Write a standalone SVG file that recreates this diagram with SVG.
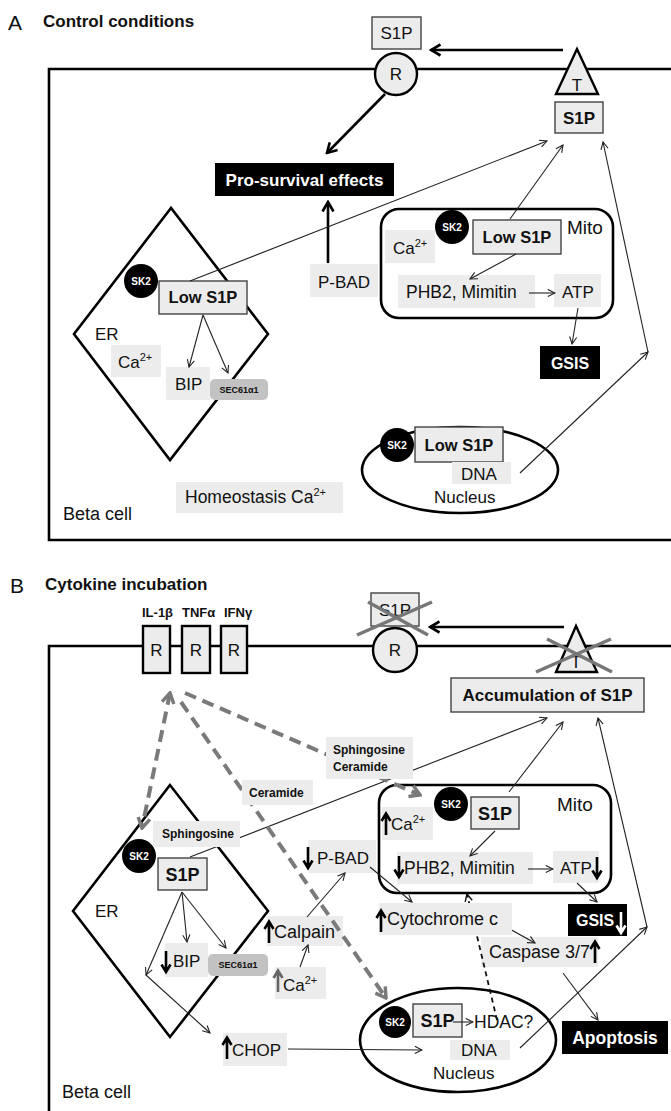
<svg xmlns="http://www.w3.org/2000/svg" width="671" height="1111" viewBox="0 0 671 1111">
<style>
text{font-family:"Liberation Sans",Arial,sans-serif;fill:#111}
.b{font-weight:bold}
.m{text-anchor:middle}
.w{fill:#fff}
.s17{font-size:17px}
.s18{font-size:18px}
.s12{font-size:12px}
.sk{font-size:10px;font-weight:bold;fill:#fff;text-anchor:middle}
.bg{fill:#ececec}
.bx{fill:#ececec;stroke:#444;stroke-width:1.4}
.blk{fill:#000}
.mem{fill:none;stroke:#000;stroke-width:2.6}
.shp{fill:#ececec;stroke:#000;stroke-width:2.4}
.ln{fill:none;stroke:#222;stroke-width:1.1;marker-end:url(#a)}
.bo{fill:none;stroke:#000;stroke-width:2.6;marker-end:url(#ab)}
.dg{fill:none;stroke:#7a7a7a;stroke-width:4;stroke-dasharray:12 7;marker-end:url(#ag)}
.dk{fill:none;stroke:#111;stroke-width:1.8;stroke-dasharray:5 4;marker-end:url(#ak)}
.x{stroke:#777;stroke-width:3.5}
.sec{fill:#c2c2c2}
.ua{fill:none;stroke-width:2.6}
</style>
<defs>
<marker id="a" viewBox="0 0 10 10" refX="9" refY="5" markerWidth="9" markerHeight="9" orient="auto" markerUnits="userSpaceOnUse"><path d="M1,1 L9,5 L1,9" fill="none" stroke="#222" stroke-width="1.2"/></marker>
<marker id="ab" viewBox="0 0 13 14" refX="11" refY="7" markerWidth="13" markerHeight="14" orient="auto" markerUnits="userSpaceOnUse"><path d="M1.5,1.5 L11,7 L1.5,12.5" fill="none" stroke="#000" stroke-width="2.6"/></marker>
<marker id="ag" viewBox="0 0 14 16" refX="12" refY="8" markerWidth="14" markerHeight="16" orient="auto-start-reverse" markerUnits="userSpaceOnUse"><path d="M2,2 L12,8 L2,14" fill="none" stroke="#7a7a7a" stroke-width="3.5"/></marker>
<marker id="ak" viewBox="0 0 10 10" refX="9" refY="5" markerWidth="9" markerHeight="9" orient="auto" markerUnits="userSpaceOnUse"><path d="M1,1 L9,5 L1,9" fill="none" stroke="#111" stroke-width="1.6"/></marker>
<path id="up" d="M0,0 V-21 M-4.5,-14 L0,-21.5 L4.5,-14"/>
<path id="dn" d="M0,-21 V0 M-4.5,-7.5 L0,0 L4.5,-7.5"/>
</defs>
<rect width="671" height="1111" fill="#fff"/>

<!-- ========== PANEL A ========== -->
<g id="titleA">
<text x="8" y="30" style="font-size:21px">A</text>
<text x="43" y="27" class="b s17">Control conditions</text>
</g>
<g id="cellA">
<path class="mem" d="M671,69 H49 V540 H671"/>
<text x="63" y="520" class="s18">Beta cell</text>
</g>
<g id="recA">
<rect class="bx" x="372" y="17" width="49" height="32"/>
<text x="396.5" y="39" class="s17 m">S1P</text>
<circle class="shp" cx="396" cy="74" r="21"/>
<text x="396" y="80" class="s17 m">R</text>
</g>
<g id="transA">
<polygon class="shp" points="577,49 556,94 598,94"/>
<text x="577" y="91" class="s17 m">T</text>
<rect class="bx" x="555" y="102" width="48" height="31"/>
<text x="579" y="124" class="b s17 m">S1P</text>
</g>
<g id="prosurvival">
<rect class="blk" x="215" y="163" width="179" height="33"/>
<text x="304.5" y="186" class="b s17 m w">Pro-survival effects</text>
</g>
<g id="pbadA">
<rect class="bg" x="310" y="264" width="68" height="33"/>
<text x="318" y="288" class="s17">P-BAD</text>
</g>
<g id="erA">
<polygon class="mem" points="171,208 74,334 170,460 268,334"/>
<text x="95" y="340" class="s17">ER</text>
<circle cx="141" cy="281" r="17" fill="#000"/>
<text x="141" y="285" class="sk">SK2</text>
<rect class="bx" x="159" y="281" width="88" height="33"/>
<text x="203" y="303" class="b m" style="font-size:16.5px">Low S1P</text>
<rect class="bg" x="111" y="345" width="50" height="32"/>
<text x="118" y="368" class="s17">Ca<tspan font-size="11" dy="-7">2+</tspan></text>
<rect class="bg" x="166" y="367" width="44" height="33"/>
<text x="175" y="390" class="s17">BIP</text>
<rect class="sec" x="210" y="379" width="58" height="21" rx="5"/>
<text x="239" y="393" class="b m" style="font-size:9px">SEC61α1</text>
</g>
<g id="mitoA">
<rect class="mem" x="381" y="209" width="232" height="109" rx="18"/>
<text x="567" y="234" style="font-size:19px">Mito</text>
<circle cx="452" cy="227" r="17" fill="#000"/>
<text x="452" y="231" class="sk">SK2</text>
<rect class="bx" x="473" y="220" width="88" height="34"/>
<text x="517" y="243" class="b m" style="font-size:16.5px">Low S1P</text>
<rect class="bg" x="385" y="230" width="50" height="33"/>
<text x="393" y="254" class="s17">Ca<tspan font-size="11" dy="-7">2+</tspan></text>
<rect class="bg" x="398" y="275" width="137" height="33"/>
<text x="406" y="298" style="font-size:17.5px">PHB2, Mimitin</text>
<rect class="bg" x="554" y="274" width="47" height="33"/>
<text x="562" y="298" class="s17">ATP</text>
</g>
<g id="gsisA">
<rect class="blk" x="540" y="346" width="60" height="33"/>
<text x="570" y="369" class="b m w" style="font-size:16px">GSIS</text>
</g>
<g id="nucleusA">
<ellipse class="mem" cx="460" cy="470" rx="98" ry="43"/>
<circle cx="397" cy="445" r="17" fill="#000"/>
<text x="397" y="449" class="sk">SK2</text>
<rect class="bx" x="415" y="427" width="88" height="35"/>
<text x="459" y="451" class="b m" style="font-size:16.5px">Low S1P</text>
<rect class="bg" x="452" y="462" width="59" height="22"/>
<text x="461" y="480" class="s17">DNA</text>
<text x="434" y="503" class="s17">Nucleus</text>
</g>
<g id="homeostasis">
<rect class="bg" x="176" y="482" width="167" height="31"/>
<text x="185" y="503" style="font-size:17.5px">Homeostasis Ca<tspan font-size="11" dy="-7">2+</tspan></text>
</g>

<!-- ========== PANEL B ========== -->
<g id="titleB">
<text x="10" y="593" style="font-size:21px">B</text>
<text x="45" y="590" class="b s17">Cytokine incubation</text>
</g>
<g id="cellB">
<path class="mem" d="M671,646 H49 V1111"/>
<text x="62" y="1098" class="s18">Beta cell</text>
</g>
<g id="cytokineR">
<rect class="shp" x="143" y="626" width="27" height="47"/>
<rect class="shp" x="182" y="626" width="28" height="47"/>
<rect class="shp" x="221" y="626" width="26" height="47"/>
<text x="156.5" y="656" class="s17 m">R</text>
<text x="196" y="656" class="s17 m">R</text>
<text x="234" y="656" class="s17 m">R</text>
<text x="142" y="617" class="b" style="font-size:13px">IL-1β</text>
<text x="182" y="617" class="b" style="font-size:13px">TNFα</text>
<text x="224" y="617" class="b" style="font-size:13px">IFNγ</text>
</g>
<g id="recB">
<rect class="bx" x="371" y="593" width="48" height="33"/>
<text x="395" y="616" class="s17 m">S1P</text>
<line class="x" x1="357" y1="635" x2="432" y2="602"/>
<line class="x" x1="368" y1="602" x2="428" y2="635"/>
<circle class="shp" cx="395" cy="650" r="22"/>
<text x="395" y="656" class="s17 m">R</text>
</g>
<g id="transB">
<polygon class="shp" points="576,626 556,672 597,672"/>
<text x="576" y="668" class="s17 m">T</text>
<line class="x" x1="536" y1="672" x2="611" y2="639"/>
<line class="x" x1="547" y1="639" x2="612" y2="672"/>
</g>
<g id="accumulation">
<rect class="bx" x="451" y="678" width="193" height="34"/>
<text x="547.5" y="701" class="b s17 m">Accumulation of S1P</text>
</g>
<g id="erB">
<polygon class="mem" points="170,785 73,911 170,1037 268,911"/>
<text x="95" y="917" class="s17">ER</text>
<circle cx="139" cy="856" r="17" fill="#000"/>
<text x="139" y="860" class="sk">SK2</text>
<rect class="bx" x="158" y="858" width="49" height="32"/>
<text x="182.5" y="881" class="b m s18">S1P</text>
<rect class="bg" x="165" y="943" width="43" height="34"/>
<use href="#dn" x="166" y="972" class="ua" stroke="#000"/>
<text x="173" y="967" class="s17">BIP</text>
<rect class="sec" x="208" y="954" width="60" height="22" rx="5"/>
<text x="238" y="968" class="b m" style="font-size:9px">SEC61α1</text>
</g>
<g id="mitoB">
<rect class="mem" x="379" y="785" width="232" height="108" rx="18"/>
<text x="557" y="811" style="font-size:19px">Mito</text>
<circle cx="451" cy="804" r="17" fill="#000"/>
<text x="451" y="808" class="sk">SK2</text>
<rect class="bx" x="471" y="797" width="48" height="32"/>
<text x="495" y="820" class="b m s18">S1P</text>
<rect class="bg" x="382" y="807" width="51" height="33"/>
<use href="#up" x="386" y="835" class="ua" stroke="#000"/>
<text x="391" y="830" class="s17">Ca<tspan font-size="11" dy="-7">2+</tspan></text>
<rect class="bg" x="397" y="852" width="136" height="32"/>
<use href="#dn" x="399" y="877" class="ua" stroke="#000"/>
<text x="404" y="874" style="font-size:17.5px">PHB2, Mimitin</text>
<rect class="bg" x="553" y="851" width="46" height="32"/>
<text x="560" y="874" class="s17">ATP</text>
<use href="#dn" x="597" y="878" class="ua" stroke="#000"/>
</g>
<g id="pbadB">
<rect class="bg" x="308" y="840" width="68" height="33"/>
<use href="#dn" x="308" y="868" class="ua" stroke="#000"/>
<text x="317" y="864" class="s17">P-BAD</text>
</g>
<g id="calpain">
<rect class="bg" x="267" y="916" width="76" height="30"/>
<use href="#up" x="269" y="943" class="ua" stroke="#000"/>
<text x="274" y="938" class="s18">Calpain</text>
</g>
<g id="caB">
<rect class="bg" x="275" y="967" width="51" height="32"/>
<use href="#up" x="278" y="992" class="ua" stroke="#666"/>
<text x="283" y="991" class="s17">Ca<tspan font-size="11" dy="-7">2+</tspan></text>
</g>
<g id="caspase">
<rect class="bg" x="481" y="937" width="117" height="30"/>
<text x="489" y="958" class="s18">Caspase 3/7</text>
<use href="#up" x="595" y="963" class="ua" stroke="#000"/>
</g>
<g id="gsisB">
<rect class="blk" x="568" y="904" width="59" height="32"/>
<text x="576" y="926" class="b w" style="font-size:16px">GSIS</text>
<use href="#dn" x="621" y="933" class="ua" stroke="#fff"/>
</g>
<g id="apoptosis">
<rect class="blk" x="562" y="1021" width="106" height="33"/>
<text x="615" y="1044" class="b m w" style="font-size:17.5px">Apoptosis</text>
</g>
<g id="chop">
<rect class="bg" x="223" y="1033" width="64" height="33"/>
<use href="#up" x="227" y="1059" class="ua" stroke="#000"/>
<text x="232" y="1056" class="s17">CHOP</text>
</g>
<g id="nucleusB">
<ellipse class="mem" cx="458" cy="1040" rx="98" ry="52"/>
<circle cx="395" cy="1022" r="16" fill="#000"/>
<text x="395" y="1026" class="sk">SK2</text>
<rect class="bx" x="413" y="1004" width="49" height="33"/>
<text x="437.5" y="1027" class="b m s18">S1P</text>
<text x="474" y="1028" style="font-size:17.5px">HDAC?</text>
<rect class="bg" x="450" y="1040" width="60" height="20"/>
<text x="461" y="1056" class="s17">DNA</text>
<text x="433" y="1079" class="s17">Nucleus</text>
</g>

<!-- ========== CONNECTORS ========== -->
<g id="connectors">
<line class="bo" x1="563" y1="50" x2="431" y2="50"/>
<line class="bo" x1="385" y1="94" x2="327" y2="153"/>
<line class="bo" x1="328" y1="263" x2="328" y2="202"/>
<line class="ln" x1="190" y1="281" x2="547" y2="141"/>
<line class="ln" x1="510" y1="219" x2="563" y2="145"/>
<line class="ln" x1="648" y1="352" x2="603" y2="142"/>
<line class="ln" x1="520" y1="473" x2="648" y2="352"/>
<line class="ln" x1="516" y1="254" x2="470" y2="279"/>
<line class="ln" x1="529" y1="293" x2="555" y2="293"/>
<line class="ln" x1="578" y1="308" x2="572" y2="344"/>
<line class="ln" x1="203" y1="315" x2="189" y2="367"/>
<line class="ln" x1="203" y1="315" x2="228" y2="373"/>

<line class="bo" x1="564" y1="627" x2="430" y2="627"/>
<line class="ln" x1="190" y1="857" x2="547" y2="718"/>
<line class="ln" x1="509" y1="792" x2="563" y2="722"/>
<line class="ln" x1="647" y1="927" x2="598" y2="718"/>
<line class="ln" x1="520" y1="1048" x2="647" y2="927"/>
<line class="ln" x1="495" y1="831" x2="470" y2="856"/>
<line class="ln" x1="528" y1="869" x2="553" y2="869"/>
<line class="ln" x1="577" y1="883" x2="597" y2="902"/>
<line class="ln" x1="370" y1="867" x2="412" y2="902"/>
<line class="ln" x1="307" y1="917" x2="345" y2="873"/>
<line class="ln" x1="300" y1="967" x2="308" y2="945"/>
<line class="ln" x1="508" y1="928" x2="535" y2="943"/>
<line class="ln" x1="563" y1="973" x2="598" y2="1020"/>
<line class="ln" x1="182" y1="892" x2="187" y2="942"/>
<line class="ln" x1="182" y1="892" x2="226" y2="948"/>
<line class="ln" x1="182" y1="892" x2="146" y2="975"/>
<line class="ln" x1="146" y1="975" x2="210" y2="1033"/>
<line class="ln" x1="288" y1="1049" x2="422" y2="1050"/>
<line class="ln" x1="453" y1="1022" x2="473" y2="1022"/>
<line class="dk" x1="497" y1="1020" x2="467" y2="894"/>
<line class="dg" x1="170" y1="693" x2="142" y2="828" style="marker-start:url(#ag)"/>
<line class="dg" x1="185" y1="693" x2="420" y2="795"/>
<line class="dg" x1="181" y1="702" x2="386" y2="998"/>
</g>

<!-- labels drawn over the connectors that pass behind them -->
<g id="lipids">
<rect class="bg" x="326" y="737" width="87" height="42"/>
<text x="333" y="754" class="b s12">Sphingosine</text>
<text x="333" y="771" class="b s12">Ceramide</text>
<rect class="bg" x="242" y="780" width="71" height="25"/>
<text x="249" y="797" class="b s12">Ceramide</text>
<rect class="bg" x="153" y="821" width="87" height="26"/>
<text x="162" y="838" class="b s12">Sphingosine</text>
</g>
<g id="cytochrome">
<rect class="bg" x="379" y="903" width="133" height="32"/>
<use href="#up" x="381" y="932" class="ua" stroke="#000"/>
<text x="387" y="925" class="s18">Cytochrome c</text>
</g>
</svg>
